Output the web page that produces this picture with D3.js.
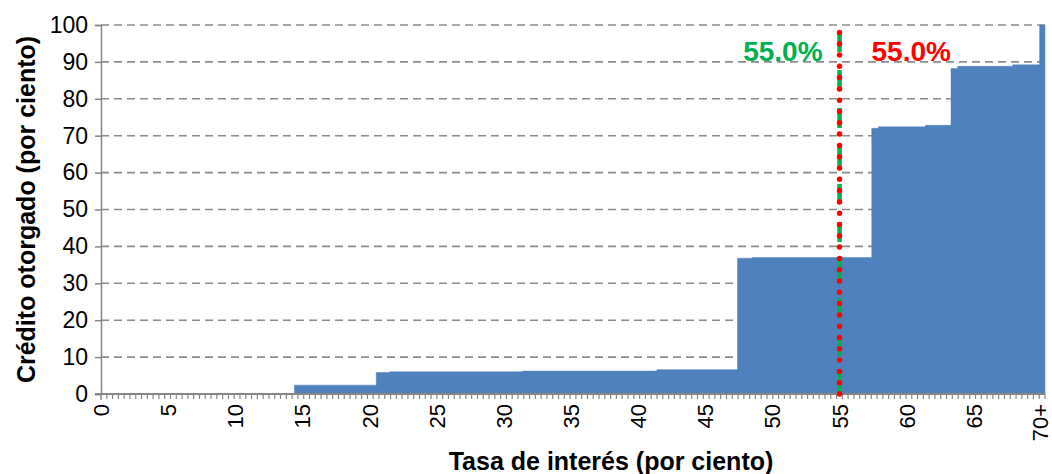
<!DOCTYPE html>
<html>
<head>
<meta charset="utf-8">
<script src="https://cdn.jsdelivr.net/npm/d3@7"></script>
<style>
  html, body { margin: 0; padding: 0; background: #fff; }
  svg { display: block; font-family: Arial, "Liberation Sans", sans-serif; }
</style>
</head>
<body>
<svg id="chart" width="1052" height="474"></svg>
<script>
// Cumulative credit granted (percent) as a step function of the interest rate.
const rateBreaks   = [0, 14.4, 20.5, 21.5, 31.4, 41.4, 47.4, 48.5, 57.4, 57.9, 61.4, 63.3, 63.8, 67.9, 69.9];
const creditLevels = [0, 2.4, 5.8, 6.0, 6.2, 6.6, 36.8, 37.0, 72.0, 72.4, 72.8, 88.2, 88.8, 89.2, 100];
const rateMax = 70.3;

const xTickValues = [0, 5, 10, 15, 20, 25, 30, 35, 40, 45, 50, 55, 60, 65, 70];
const xTickLabels = ["0", "5", "10", "15", "20", "25", "30", "35", "40", "45", "50", "55", "60", "65", "70+"];
const yTickValues = [0, 10, 20, 30, 40, 50, 60, 70, 80, 90, 100];

const thresholdRate = 55;
const thresholdLabels = [
  { text: "55.0%", color: "#00b050", side: -1 },
  { text: "55.0%", color: "#ff0000", side: 1 }
];

const margin = { left: 101, right: 7, top: 25, bottom: 80 };
const W = 1052, H = 474;

const svg = d3.select("#chart");
const x = d3.scaleLinear().domain([0, rateMax]).range([margin.left, W - margin.right]);
const y = d3.scaleLinear().domain([0, 100]).range([H - margin.bottom, margin.top]);

const axisColor = "#868686";

// Horizontal dashed gridlines
svg.append("g")
  .selectAll("line")
  .data(yTickValues.filter(d => d > 0))
  .join("line")
  .attr("x1", x(0)).attr("x2", x(rateMax))
  .attr("y1", d => y(d)).attr("y2", d => y(d))
  .attr("stroke", "#8c8c8c")
  .attr("stroke-width", 1.6)
  .attr("stroke-dasharray", "8,5");

// Step area
const steps = rateBreaks.map((r, i) => ({ r, v: creditLevels[i] }));
steps.push({ r: rateMax, v: creditLevels[creditLevels.length - 1] });
const area = d3.area()
  .x(d => x(d.r))
  .y0(y(0))
  .y1(d => y(d.v))
  .curve(d3.curveStepAfter);
svg.append("path")
  .datum(steps)
  .attr("d", area)
  .attr("fill", "#4f81bd")
  .attr("stroke", "#4f81bd")
  .attr("stroke-width", 0.5);

// Y axis
const yAxis = d3.axisLeft(y).tickValues(yTickValues).tickSize(6).tickPadding(7);
const gy = svg.append("g").attr("transform", `translate(${x(0)},0)`).call(yAxis);
gy.select(".domain").attr("stroke", axisColor).attr("stroke-width", 1.5);
gy.selectAll(".tick line").attr("stroke", axisColor).attr("stroke-width", 1.5);
gy.selectAll(".tick text").attr("font-size", 23).attr("fill", "#000")
  .attr("font-family", "Arial, 'Liberation Sans', sans-serif");

// X axis: minor ticks
const minorCount = 163;
const minorTicks = d3.range(1, minorCount + 1).map(i => i * rateMax / minorCount);
svg.append("g")
  .selectAll("line")
  .data(minorTicks)
  .join("line")
  .attr("x1", d => x(d)).attr("x2", d => x(d))
  .attr("y1", y(0)).attr("y2", y(0) + 5)
  .attr("stroke", axisColor)
  .attr("stroke-width", 1.2);
svg.append("line")
  .attr("x1", x(0)).attr("x2", x(0))
  .attr("y1", y(0)).attr("y2", y(0) + 6)
  .attr("stroke", axisColor).attr("stroke-width", 1.5);
svg.append("line")
  .attr("x1", x(0) - 6).attr("x2", x(rateMax))
  .attr("y1", y(0)).attr("y2", y(0))
  .attr("stroke", axisColor).attr("stroke-width", 1.8);

// X tick labels (rotated)
svg.append("g")
  .selectAll("text")
  .data(xTickValues)
  .join("text")
  .attr("transform", d => `translate(${Math.min(x(d) + 8, W - 4)},${y(0) + 10}) rotate(-90)`)
  .attr("text-anchor", "end")
  .attr("font-size", 22)
  .attr("fill", "#000")
  .text((d, i) => xTickLabels[i]);

// Threshold line: green dashes with red dots on top
const ly1 = y(0), ly2 = y(99);
svg.append("line")
  .attr("x1", x(thresholdRate)).attr("x2", x(thresholdRate))
  .attr("y1", ly1).attr("y2", ly2)
  .attr("stroke", "#00b050").attr("stroke-width", 4.5)
  .attr("stroke-dasharray", "20,18");
svg.append("line")
  .attr("x1", x(thresholdRate)).attr("x2", x(thresholdRate))
  .attr("y1", ly1).attr("y2", ly2)
  .attr("stroke", "#ff0000").attr("stroke-width", 5.5)
  .attr("stroke-linecap", "round")
  .attr("stroke-dasharray", "0,11.3");

// Threshold labels
svg.append("g")
  .selectAll("text")
  .data(thresholdLabels)
  .join("text")
  .attr("x", d => x(thresholdRate) + (d.side < 0 ? -17 : 32))
  .attr("y", 61)
  .attr("text-anchor", d => d.side < 0 ? "end" : "start")
  .attr("font-size", 28)
  .attr("font-weight", "bold")
  .attr("fill", d => d.color)
  .text(d => d.text);

// Axis titles
svg.append("text")
  .attr("x", 611).attr("y", 470)
  .attr("text-anchor", "middle")
  .attr("font-size", 25).attr("font-weight", "bold")
  .text("Tasa de interés (por ciento)");
svg.append("text")
  .attr("transform", `translate(35,${(y(0) + y(100)) / 2}) rotate(-90)`)
  .attr("text-anchor", "middle")
  .attr("font-size", 25).attr("font-weight", "bold")
  .text("Crédito otorgado (por ciento)");
</script>
</body>
</html>
